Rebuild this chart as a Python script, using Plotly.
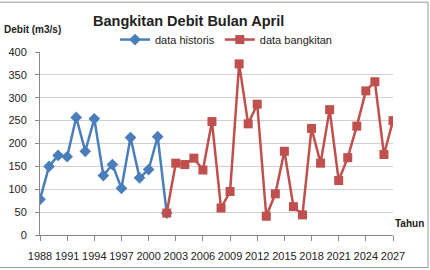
import plotly.graph_objects as go

hist_years = list(range(1988, 2003))
hist_values = [78, 150, 174, 171, 257, 183, 254, 130, 154, 102, 213, 125, 143, 215, 48]

gen_years = list(range(2002, 2028))
gen_values = [48, 157, 154, 168, 142, 248, 59, 95, 374, 243, 286, 41, 90, 183, 62, 44,
              233, 157, 274, 119, 169, 238, 315, 335, 176, 250]

x_ticks = list(range(1988, 2028, 3))
y_ticks = [0, 50, 100, 150, 200, 250, 300, 350, 400]

BLUE = "#4A7EBB"
RED = "#C0504D"
FONT = "Liberation Sans"

W, H = 430, 270
L, R, T, B = 40, 393, 51.5, 235.3
PW, PH = R - L, B - T

def px(x):
    return (x - L) / PW

def py(y):
    return (B - y) / PH

fig = go.Figure()
fig.add_trace(go.Scatter(
    x=hist_years, y=hist_values, name="data historis", mode="lines+markers",
    line=dict(color=BLUE, width=2.5),
    marker=dict(symbol="diamond", size=9, color=BLUE),
))
fig.add_trace(go.Scatter(
    x=gen_years, y=gen_values, name="data bangkitan", mode="lines+markers",
    line=dict(color=RED, width=2.5),
    marker=dict(symbol="square", size=9, color=RED),
))

fig.update_layout(
    width=W, height=H,
    margin=dict(l=L, r=W - R, t=T, b=H - B, pad=0, autoexpand=False),
    paper_bgcolor="white", plot_bgcolor="white",
    font=dict(family=FONT, size=11, color="#222"),
    showlegend=True,
    legend=dict(orientation="h", x=px(115), y=py(39), xanchor="left", yanchor="middle",
                font=dict(family=FONT, size=11, color="#222"), itemwidth=30,
                bgcolor="rgba(0,0,0,0)"),
    xaxis=dict(range=[1988, 2027], tickvals=x_ticks, ticktext=[str(v) for v in x_ticks],
               showgrid=False, showline=True, linecolor="#888", linewidth=1,
               ticks="outside", ticklen=5, tickcolor="#888", zeroline=False,
               tickfont=dict(family=FONT, size=11, color="#222"),
               ticklabelstandoff=6),
    yaxis=dict(range=[0, 400], tickvals=y_ticks, showgrid=True, gridcolor="#D0D0D0",
               gridwidth=1, showline=True, linecolor="#888", linewidth=1,
               ticks="outside", ticklen=4, tickcolor="#888", zeroline=False,
               tickfont=dict(family=FONT, size=11, color="#222"),
               ticklabelstandoff=6),
    annotations=[
        dict(text="<b>Bangkitan Debit Bulan April</b>", xref="paper", yref="paper",
             x=px(188), y=py(20), xanchor="center", yanchor="middle", showarrow=False,
             font=dict(family=FONT, size=14.5, color="#222")),
        dict(text="<b>Debit (m3/s)</b>", xref="paper", yref="paper",
             x=px(2), y=py(29), xanchor="left", yanchor="middle", showarrow=False,
             font=dict(family=FONT, size=10, color="#222")),
        dict(text="<b>Tahun</b>", xref="paper", yref="paper",
             x=px(426), y=py(224), xanchor="right", yanchor="middle", showarrow=False,
             font=dict(family=FONT, size=10, color="#222")),
    ],
    shapes=[
        dict(type="rect", xref="paper", yref="paper", x0=px(-5), x1=px(428), y0=py(268), y1=py(1.5),
             line=dict(color="#999", width=1), layer="below"),
    ],
)

fig.write_html("out.html")
